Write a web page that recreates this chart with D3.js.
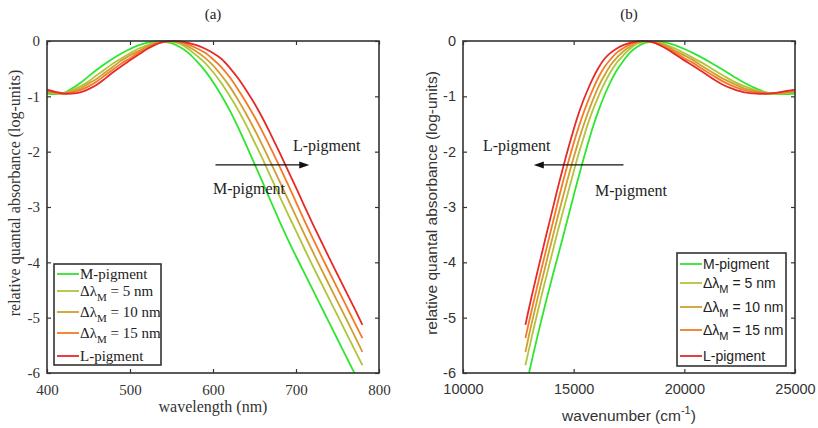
<!DOCTYPE html>
<html>
<head>
<meta charset="utf-8">
<script src="https://cdn.jsdelivr.net/npm/d3@7"></script>
<style>
  body { margin: 0; background: #fff; }
  svg { display: block; }
</style>
</head>
<body>
<div id="chart"></div>
<script>
// wavelength grid (nm)
const wavelengths = [400, 410, 420, 430, 440, 450, 460, 470, 480, 490, 500, 510, 520, 530, 540, 550, 560, 570, 580, 590,
    600, 610, 620, 630, 640, 650, 660, 670, 680, 690, 700, 710, 720, 730, 740, 750, 760, 770, 780];

// log relative quantal absorbance for each pigment
const mPigment = [-0.95, -0.96, -0.94, -0.86, -0.76, -0.64, -0.52, -0.41, -0.31, -0.22, -0.145, -0.08, -0.035, -0.005, -0.01, -0.04, -0.11, -0.21, -0.36, -0.53,
    -0.74, -0.98, -1.25, -1.55, -1.88, -2.22, -2.56, -2.91, -3.25, -3.58, -3.89, -4.19, -4.49, -4.79, -5.09, -5.39, -5.69, -5.99, -6.29];
const shift5 = [-0.92, -0.95, -0.94, -0.89, -0.82, -0.73, -0.62, -0.51, -0.40, -0.31, -0.22, -0.14, -0.08, -0.02, -0.003, -0.012, -0.05, -0.14, -0.26, -0.39,
    -0.56, -0.76, -0.99, -1.24, -1.52, -1.83, -2.14, -2.47, -2.80, -3.12, -3.43, -3.75, -4.06, -4.36, -4.66, -4.96, -5.26, -5.56, -5.86];
const shift10 = [-0.91, -0.94, -0.95, -0.91, -0.86, -0.77, -0.68, -0.57, -0.46, -0.35, -0.26, -0.18, -0.10, -0.04, -0.012, -0.003, -0.03, -0.10, -0.19, -0.30,
    -0.44, -0.62, -0.82, -1.06, -1.32, -1.60, -1.90, -2.21, -2.53, -2.85, -3.17, -3.49, -3.80, -4.11, -4.41, -4.71, -5.01, -5.31, -5.62];
const shift15 = [-0.90, -0.93, -0.95, -0.93, -0.89, -0.82, -0.73, -0.62, -0.51, -0.40, -0.31, -0.21, -0.13, -0.06, -0.022, -0.002, -0.01, -0.06, -0.13, -0.21,
    -0.33, -0.47, -0.65, -0.87, -1.11, -1.37, -1.65, -1.95, -2.26, -2.58, -2.91, -3.24, -3.56, -3.87, -4.17, -4.47, -4.77, -5.07, -5.37];
const lPigment = [-0.88, -0.92, -0.95, -0.95, -0.93, -0.87, -0.79, -0.68, -0.56, -0.45, -0.35, -0.25, -0.15, -0.07, -0.015, -0.001, -0.006, -0.035, -0.075, -0.135,
    -0.215, -0.32, -0.48, -0.67, -0.89, -1.13, -1.40, -1.70, -2.01, -2.33, -2.65, -2.98, -3.30, -3.61, -3.92, -4.22, -4.52, -4.82, -5.13];

const seriesNames = ["M-pigment", "\u0394\u03bb|M| = 5 nm", "\u0394\u03bb|M| = 10 nm", "\u0394\u03bb|M| = 15 nm", "L-pigment"];
const seriesColors = ["#2fe62f", "#b2c43a", "#cf9f30", "#f47a27", "#e52a2a"];
const seriesValues = [mPigment, shift5, shift10, shift15, lPigment];

const wlTicks = [400, 500, 600, 700, 800];
const wnTicks = [10000, 15000, 20000, 25000];
const yTicks = [0, -1, -2, -3, -4, -5, -6];

const serif = "'Liberation Serif', 'Times New Roman', serif";
const sans = "'Liberation Sans', Arial, sans-serif";

const W = 818, H = 428;
const svg = d3.select("#chart").append("svg").attr("width", W).attr("height", H);

function drawPanel(p) {
    const g = svg.append("g");
    const x = d3.scaleLinear().domain(p.xDomain).range([p.left, p.right]);
    const y = d3.scaleLinear().domain([0, -6]).range([p.top, p.bottom]);

    const clipId = "clip-" + p.id;
    svg.append("clipPath").attr("id", clipId)
        .append("rect")
        .attr("x", p.left).attr("y", p.top - 2)
        .attr("width", p.right - p.left).attr("height", p.bottom - p.top + 2);

    // curves
    const line = d3.line()
        .x(d => x(d[0]))
        .y(d => y(d[1]))
        .curve(d3.curveCatmullRom);

    const curves = g.append("g").attr("clip-path", `url(#${clipId})`);
    seriesValues.forEach((vals, i) => {
        const pts = wavelengths.map((w, j) => [p.xOf(w), vals[j]]);
        curves.append("path")
            .attr("d", line(pts))
            .attr("fill", "none")
            .attr("stroke", seriesColors[i])
            .attr("stroke-width", 1.8);
    });

    // axes with inward ticks on all four sides
    const axisCol = "#333";
    const axB = d3.axisBottom(x).tickValues(p.xTicks).tickSizeInner(-4).tickSizeOuter(0).tickPadding(11).tickFormat(d3.format("d"));
    const axT = d3.axisTop(x).tickValues(p.xTicks).tickSizeInner(-4).tickSizeOuter(0).tickFormat("");
    const axL = d3.axisLeft(y).tickValues(yTicks).tickSizeInner(-4).tickSizeOuter(0).tickPadding(7).tickFormat(d => d === 0 ? "0" : "-" + Math.abs(d));
    const axR = d3.axisRight(y).tickValues(yTicks).tickSizeInner(-4).tickSizeOuter(0).tickFormat("");

    const gb = g.append("g").attr("transform", `translate(0,${p.bottom})`).call(axB);
    const gt = g.append("g").attr("transform", `translate(0,${p.top})`).call(axT);
    const gl = g.append("g").attr("transform", `translate(${p.left},0)`).call(axL);
    const gr = g.append("g").attr("transform", `translate(${p.right},0)`).call(axR);
    [gb, gt, gl, gr].forEach(a => {
        a.select(".domain").remove();
        a.selectAll(".tick line").attr("stroke", axisCol).attr("stroke-width", 1.2);
        a.selectAll("text").attr("fill", "#333").style("font-family", p.font).style("font-size", p.tickSize);
    });

    g.append("rect")
        .attr("x", p.left).attr("y", p.top)
        .attr("width", p.right - p.left).attr("height", p.bottom - p.top)
        .attr("fill", "none").attr("stroke", axisCol).attr("stroke-width", 1.6);

    // titles and axis labels
    g.append("text")
        .attr("x", (p.left + p.right) / 2).attr("y", 19)
        .attr("text-anchor", "middle")
        .style("font-family", serif).style("font-size", "15px").attr("fill", "#222")
        .text(p.title);

    const xl = g.append("text")
        .attr("x", (p.left + p.right) / 2).attr("y", p.xLabelY)
        .attr("text-anchor", "middle")
        .style("font-family", p.font).style("font-size", p.labelSize).attr("fill", "#333");
    xl.append("tspan").text(p.xLabel);
    if (p.xLabelSup) {
        xl.append("tspan").attr("dy", -7).style("font-size", "11px").text(p.xLabelSup);
        xl.append("tspan").attr("dy", 7).text(")");
    }

    g.append("text")
        .attr("transform", `translate(${p.yLabelX},${p.yLabelMid}) rotate(-90)`)
        .attr("text-anchor", "middle")
        .style("font-family", p.font).style("font-size", p.labelSize).attr("fill", "#333")
        .text("relative quantal absorbance (log-units)");

    // arrow annotation
    const ay = y(-2.24);
    const x0 = x(p.arrowFrom), x1 = x(p.arrowTo);
    const dir = Math.sign(x1 - x0);
    g.append("line")
        .attr("x1", x0).attr("y1", ay).attr("x2", x1 - dir * 8).attr("y2", ay)
        .attr("stroke", "#111").attr("stroke-width", 1.3);
    g.append("path")
        .attr("d", `M${x1},${ay} L${x1 - dir * 10},${ay - 3.5} L${x1 - dir * 10},${ay + 3.5} Z`)
        .attr("fill", "#111");

    p.notes.forEach(n => {
        g.append("text")
            .attr("x", n.x).attr("y", n.y)
            .style("font-family", serif).style("font-size", "16px").attr("fill", "#222")
            .text(n.text);
    });

    // legend
    const lg = g.append("g");
    lg.append("rect")
        .attr("x", p.legend.x).attr("y", p.legend.y)
        .attr("width", p.legend.w).attr("height", p.legend.h)
        .attr("fill", "#fff").attr("stroke", axisCol).attr("stroke-width", 1.6);
    seriesNames.forEach((name, i) => {
        const ly = p.legend.rows[i];
        lg.append("line")
            .attr("x1", p.legend.x + 3).attr("x2", p.legend.x + 25)
            .attr("y1", ly).attr("y2", ly)
            .attr("stroke", seriesColors[i]).attr("stroke-width", 1.8);
        const t = lg.append("text")
            .attr("x", p.legend.x + 26).attr("y", ly + 5)
            .style("font-family", p.font).style("font-size", p.legendSize).attr("fill", "#222");
        const parts = name.split("|");
        t.append("tspan").text(parts[0]);
        if (parts.length > 1) {
            t.append("tspan").attr("dy", 5).style("font-size", "11px").text(parts[1]);
            t.append("tspan").attr("dy", -5).text(parts[2]);
        }
    });
}

drawPanel({
    id: "a", title: "(a)", font: serif, labelSize: "16px", legendSize: "15px", tickSize: "15px",
    left: 47, right: 379, top: 41, bottom: 373,
    xDomain: [400, 800], xTicks: wlTicks, xOf: w => w,
    xLabel: "wavelength (nm)", xLabelY: 412, yLabelX: 20, yLabelMid: 193,
    arrowFrom: 603, arrowTo: 716,
    notes: [{x: 293, y: 151, text: "L-pigment"}, {x: 213, y: 194, text: "M-pigment"}],
    legend: {x: 54, y: 264, w: 107, h: 101, rows: [274, 291, 312, 333, 356]}
});

drawPanel({
    id: "b", title: "(b)", font: sans, labelSize: "15.5px", legendSize: "14px", tickSize: "14.5px",
    left: 463, right: 795, top: 41, bottom: 373,
    xDomain: [10000, 25000], xTicks: wnTicks, xOf: w => 1e7 / w,
    xLabel: "wavenumber (cm", xLabelSup: "-1", xLabelY: 421, yLabelX: 437, yLabelMid: 203,
    arrowFrom: 17250, arrowTo: 13200,
    notes: [{x: 483, y: 151, text: "L-pigment"}, {x: 595, y: 196, text: "M-pigment"}],
    legend: {x: 677, y: 253, w: 109, h: 113, rows: [264, 283, 307, 330, 356]}
});
</script>
</body>
</html>
